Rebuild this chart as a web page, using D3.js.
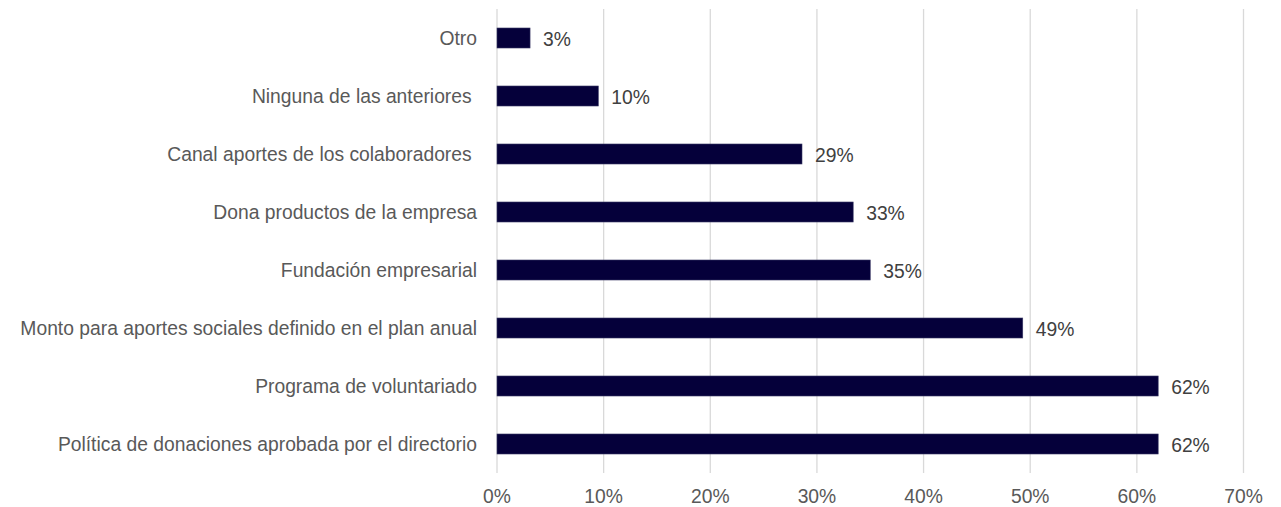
<!DOCTYPE html>
<html><head><meta charset="utf-8">
<script src="https://cdn.jsdelivr.net/npm/d3@7"></script>
<style>body{margin:0;background:#fff}svg{display:block}</style>
</head><body><svg id="c" width="1281" height="507"></svg>
<script>
const categories = ["Otro","Ninguna de las anteriores ","Canal aportes de los colaboradores ","Dona productos de la empresa","Fundación empresarial","Monto para aportes sociales definido en el plan anual","Programa de voluntariado","Política de donaciones aprobada por el directorio"];
const values = [0.031,0.095,0.286,0.334,0.350,0.493,0.620,0.620];
const valueLabels = ["3%","10%","29%","33%","35%","49%","62%","62%"];
const ticks = [0,0.1,0.2,0.3,0.4,0.5,0.6,0.7];

const svg = d3.select("#c");
const font = "'Liberation Sans', Arial, sans-serif";
const fs = 19.3;
const x = d3.scaleLinear().domain([0,0.7]).range([497,1243.5]);
const y = d3.scaleBand().domain(categories).range([9,473]).paddingInner(0.655).paddingOuter(0.3275);

svg.append("g").selectAll("line").data(ticks).join("line")
  .attr("x1",d=>x(d)).attr("x2",d=>x(d)).attr("y1",9).attr("y2",473)
  .attr("stroke","#d9d9d9").attr("stroke-width",1.3);

svg.append("g").selectAll("text").data(ticks).join("text")
  .attr("x",d=>x(d)).attr("y",496).attr("dy","0.35em").attr("text-anchor","middle")
  .attr("font-family",font).attr("font-size",fs).attr("fill","#595959")
  .text(d=>d3.format(".0%")(d));

svg.append("g").selectAll("rect").data(values).join("rect")
  .attr("x",x(0)).attr("y",(d,i)=>y(categories[i]))
  .attr("width",d=>x(d)-x(0)).attr("height",y.bandwidth())
  .attr("fill","#05003a").attr("stroke","#3b3a66").attr("stroke-width",0.6);

svg.append("g").selectAll("text").data(values).join("text")
  .attr("x",d=>x(d)+13).attr("y",(d,i)=>y(categories[i])+y.bandwidth()/2+1.5).attr("dy","0.35em")
  .attr("font-family",font).attr("font-size",fs).attr("fill","#404040")
  .text((d,i)=>valueLabels[i]);

svg.append("g").selectAll("text").data(categories).join("text")
  .attr("x",477).attr("y",d=>y(d)+y.bandwidth()/2).attr("dy","0.35em").attr("text-anchor","end")
  .style("white-space","pre")
  .attr("font-family",font).attr("font-size",fs).attr("fill","#595959")
  .text(d=>d);
</script></body></html>
